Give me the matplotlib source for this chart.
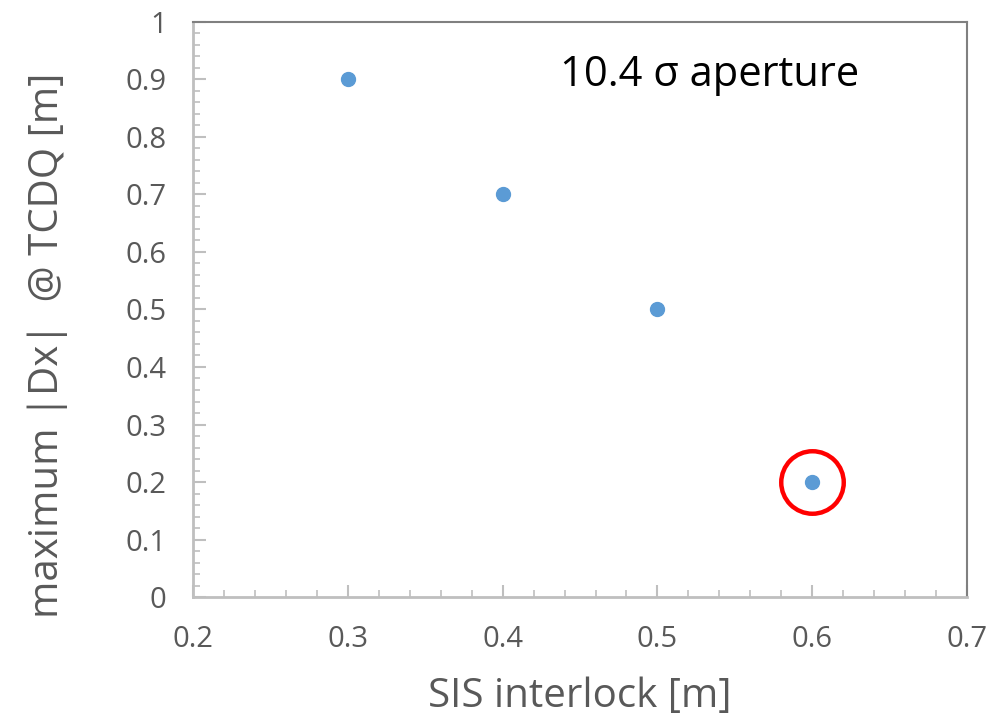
import numpy as np
import matplotlib.pyplot as plt
from matplotlib.ticker import MultipleLocator

plt.rcParams['font.family'] = ['Open Sans', 'DejaVu Sans']

# data
sis_interlock = [0.3, 0.4, 0.5, 0.6]
max_dx = [0.9, 0.7, 0.5, 0.2]
highlight_x = [0.6]
highlight_y = [0.2]

fig = plt.figure(figsize=(9.92, 7.18), dpi=100)
ax = fig.add_axes([0.1946, 0.1685, 0.7802, 0.8009])

ax.plot(sis_interlock, max_dx, 'o', color='#5B9BD5', markersize=10, zorder=3)
ax.plot(highlight_x, highlight_y, 'o', mfc='none', mec='#FF0000', mew=3.2,
        markersize=45, zorder=4, clip_on=False)

ax.set_xlim(0.2, 0.7)
ax.set_ylim(0, 1)
ax.xaxis.set_major_locator(MultipleLocator(0.1))
ax.xaxis.set_minor_locator(MultipleLocator(0.02))
ax.yaxis.set_major_locator(MultipleLocator(0.1))
ax.yaxis.set_minor_locator(MultipleLocator(0.02))
ax.set_xticklabels([f'{v:g}' for v in ax.get_xticks()])
ax.set_yticklabels([f'{v:g}' for v in ax.get_yticks()])

for s in ['left', 'bottom']:
    ax.spines[s].set_color('#BFBFBF')
    ax.spines[s].set_linewidth(2)
for s in ['top', 'right']:
    ax.spines[s].set_color('#808080')
    ax.spines[s].set_linewidth(1.5)

ax.tick_params(which='major', direction='in', length=9, width=1.5,
               color='#BFBFBF', labelsize=21, labelcolor='#595959')
ax.tick_params(which='minor', direction='in', length=5, width=1.2,
               color='#BFBFBF')
ax.tick_params(axis='x', pad=20)
ax.tick_params(axis='y', pad=19)

ax.set_xlabel('SIS interlock [m]', fontsize=29, color='#595959', labelpad=16)
ax.set_ylabel('maximum |Dx|  @ TCDQ [m]', fontsize=29, color='#595959')
ax.yaxis.set_label_coords(-0.162, 0.438)

ax.text(0.437, 0.908, '10.4 σ aperture', fontsize=30, color='black',
        va='center', ha='left')

fig.savefig('out.png', dpi=100)
